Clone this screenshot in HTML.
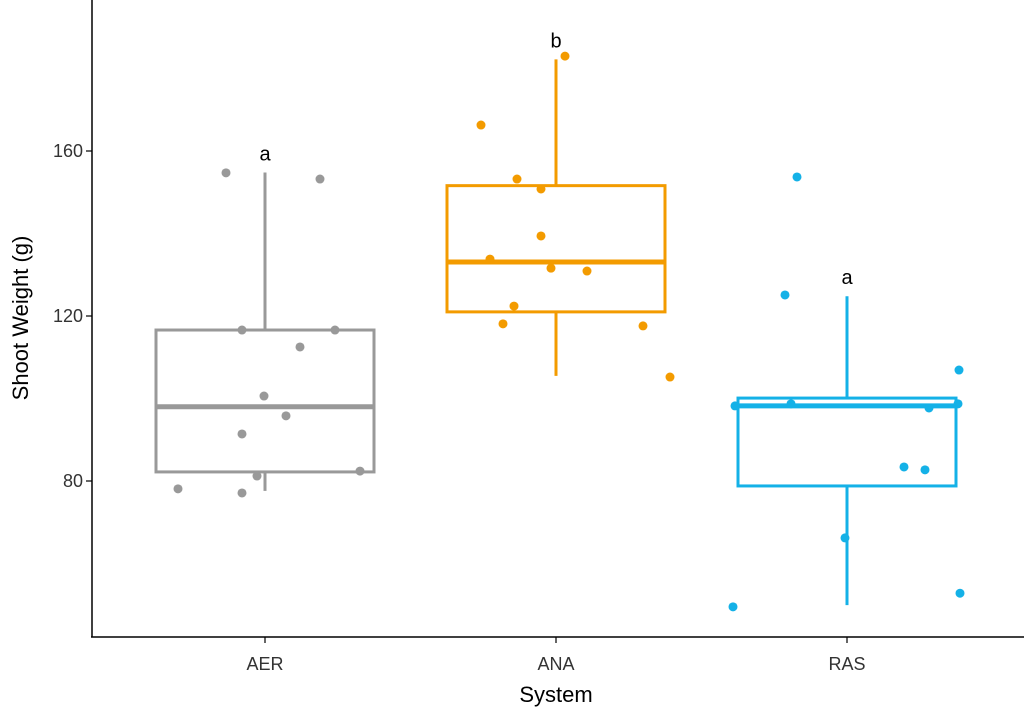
<!DOCTYPE html>
<html><head><meta charset="utf-8"><style>
body{margin:0;background:#fff;}
svg text{font-family:"Liberation Sans",Arial,sans-serif;}
</style></head><body>
<svg id="chart" width="1024" height="718" xmlns="http://www.w3.org/2000/svg"></svg>
<script>
const categories = ["AER","ANA","RAS"];
const colors = ["#999999","#F39B00","#14B1E7"];
const q1 = [82.2, 121.0, 78.8];
const medians = [98.0, 133.1, 98.2];
const q3 = [116.6, 151.6, 100.1];
const whiskerLow = [77.6, 105.5, 49.9];
const whiskerHigh = [154.8, 182.2, 124.8];
const letters = ["a","b","a"];
const pointsAER = [154.7,153.2,116.6,116.6,112.5,100.6,95.8,91.4,81.2,82.4,78.1,77.1];
const jitterAER = [-39,55,-23,70,35,-1,21,-23,-8,95,-87,-23];
const pointsANA = [183.0,166.3,153.2,150.8,139.4,133.8,131.6,130.9,122.4,118.1,117.6,105.2];
const jitterANA = [9,-75,-39,-15,-15,-66,-5,31,-42,-53,87,114];
const pointsRAS = [153.7,125.1,106.9,98.2,98.7,97.7,98.7,83.4,82.7,66.2,52.8,49.5];
const jitterRAS = [-50,-62,112,-112,-56,82,111,57,78,-2,113,-114];
const yTicks = [80,120,160];

const svg = document.getElementById('chart');
const NS = "http://www.w3.org/2000/svg";
const y = v => 481 - (v - 80) * 4.125;
const x = i => 265 + i * 291;
function mk(tag, attrs, parent){const e=document.createElementNS(NS,tag);for(const k in attrs)e.setAttribute(k,attrs[k]);(parent||svg).appendChild(e);return e;}

const axes = mk('g',{});


const yAxis = mk('line',{x1:92,y1:0,x2:92,y2:637,stroke:'#000','stroke-width':1.5},axes);


const xAxis = mk('line',{x1:91,y1:637,x2:1024,y2:637,stroke:'#000','stroke-width':1.5},axes);



yTicks.forEach(t=>{
  const tk = mk('line',{x1:86,x2:92,y1:y(t),y2:y(t),stroke:'#000','stroke-width':1.2},axes);
  
  
  const lb = mk('text',{x:83,y:y(t)+6,'text-anchor':'end','font-size':18,fill:'#333'},axes);
  lb.textContent=t;
  
  
});
categories.forEach((c,i)=>{
  const tk = mk('line',{x1:x(i),x2:x(i),y1:637,y2:643,stroke:'#000','stroke-width':1.2},axes);
  
  
  const lb = mk('text',{x:x(i),y:670,'text-anchor':'middle','font-size':18,fill:'#333'},axes);
  lb.textContent=c;
  
  
});
const xt = mk('text',{x:556,y:702,'text-anchor':'middle','font-size':22,fill:'#000'});
xt.textContent='System';


const yt = mk('text',{x:0,y:0,'text-anchor':'middle','font-size':22,fill:'#000',transform:'translate(28,318) rotate(-90)'});
yt.textContent='Shoot Weight (g)';



const pts=[pointsAER,pointsANA,pointsRAS], jit=[jitterAER,jitterANA,jitterRAS];
categories.forEach((c,i)=>{
  const g = mk('g',{stroke:colors[i],fill:'none','stroke-width':3});
  
  
  mk('line',{x1:x(i),x2:x(i),y1:y(whiskerHigh[i]),y2:y(q3[i])},g);
  mk('line',{x1:x(i),x2:x(i),y1:y(q1[i]),y2:y(whiskerLow[i])},g);
  mk('rect',{x:x(i)-109,y:y(q3[i]),width:218,height:y(q1[i])-y(q3[i])},g);
  const m = mk('line',{x1:x(i)-109,x2:x(i)+109,y1:y(medians[i]),y2:y(medians[i]),'stroke-width':5},g);
  
  
  pts[i].forEach((v,j)=>{
    const p = mk('circle',{cx:x(i)+jit[i][j],cy:y(v),r:4.5,fill:colors[i],stroke:'none'});
    
    
  });
  const l = mk('text',{x:x(i),y:y(whiskerHigh[i])-12,'text-anchor':'middle','font-size':20,fill:'#000'});
  l.textContent=letters[i];
  
  
});
</script>
</body></html>
